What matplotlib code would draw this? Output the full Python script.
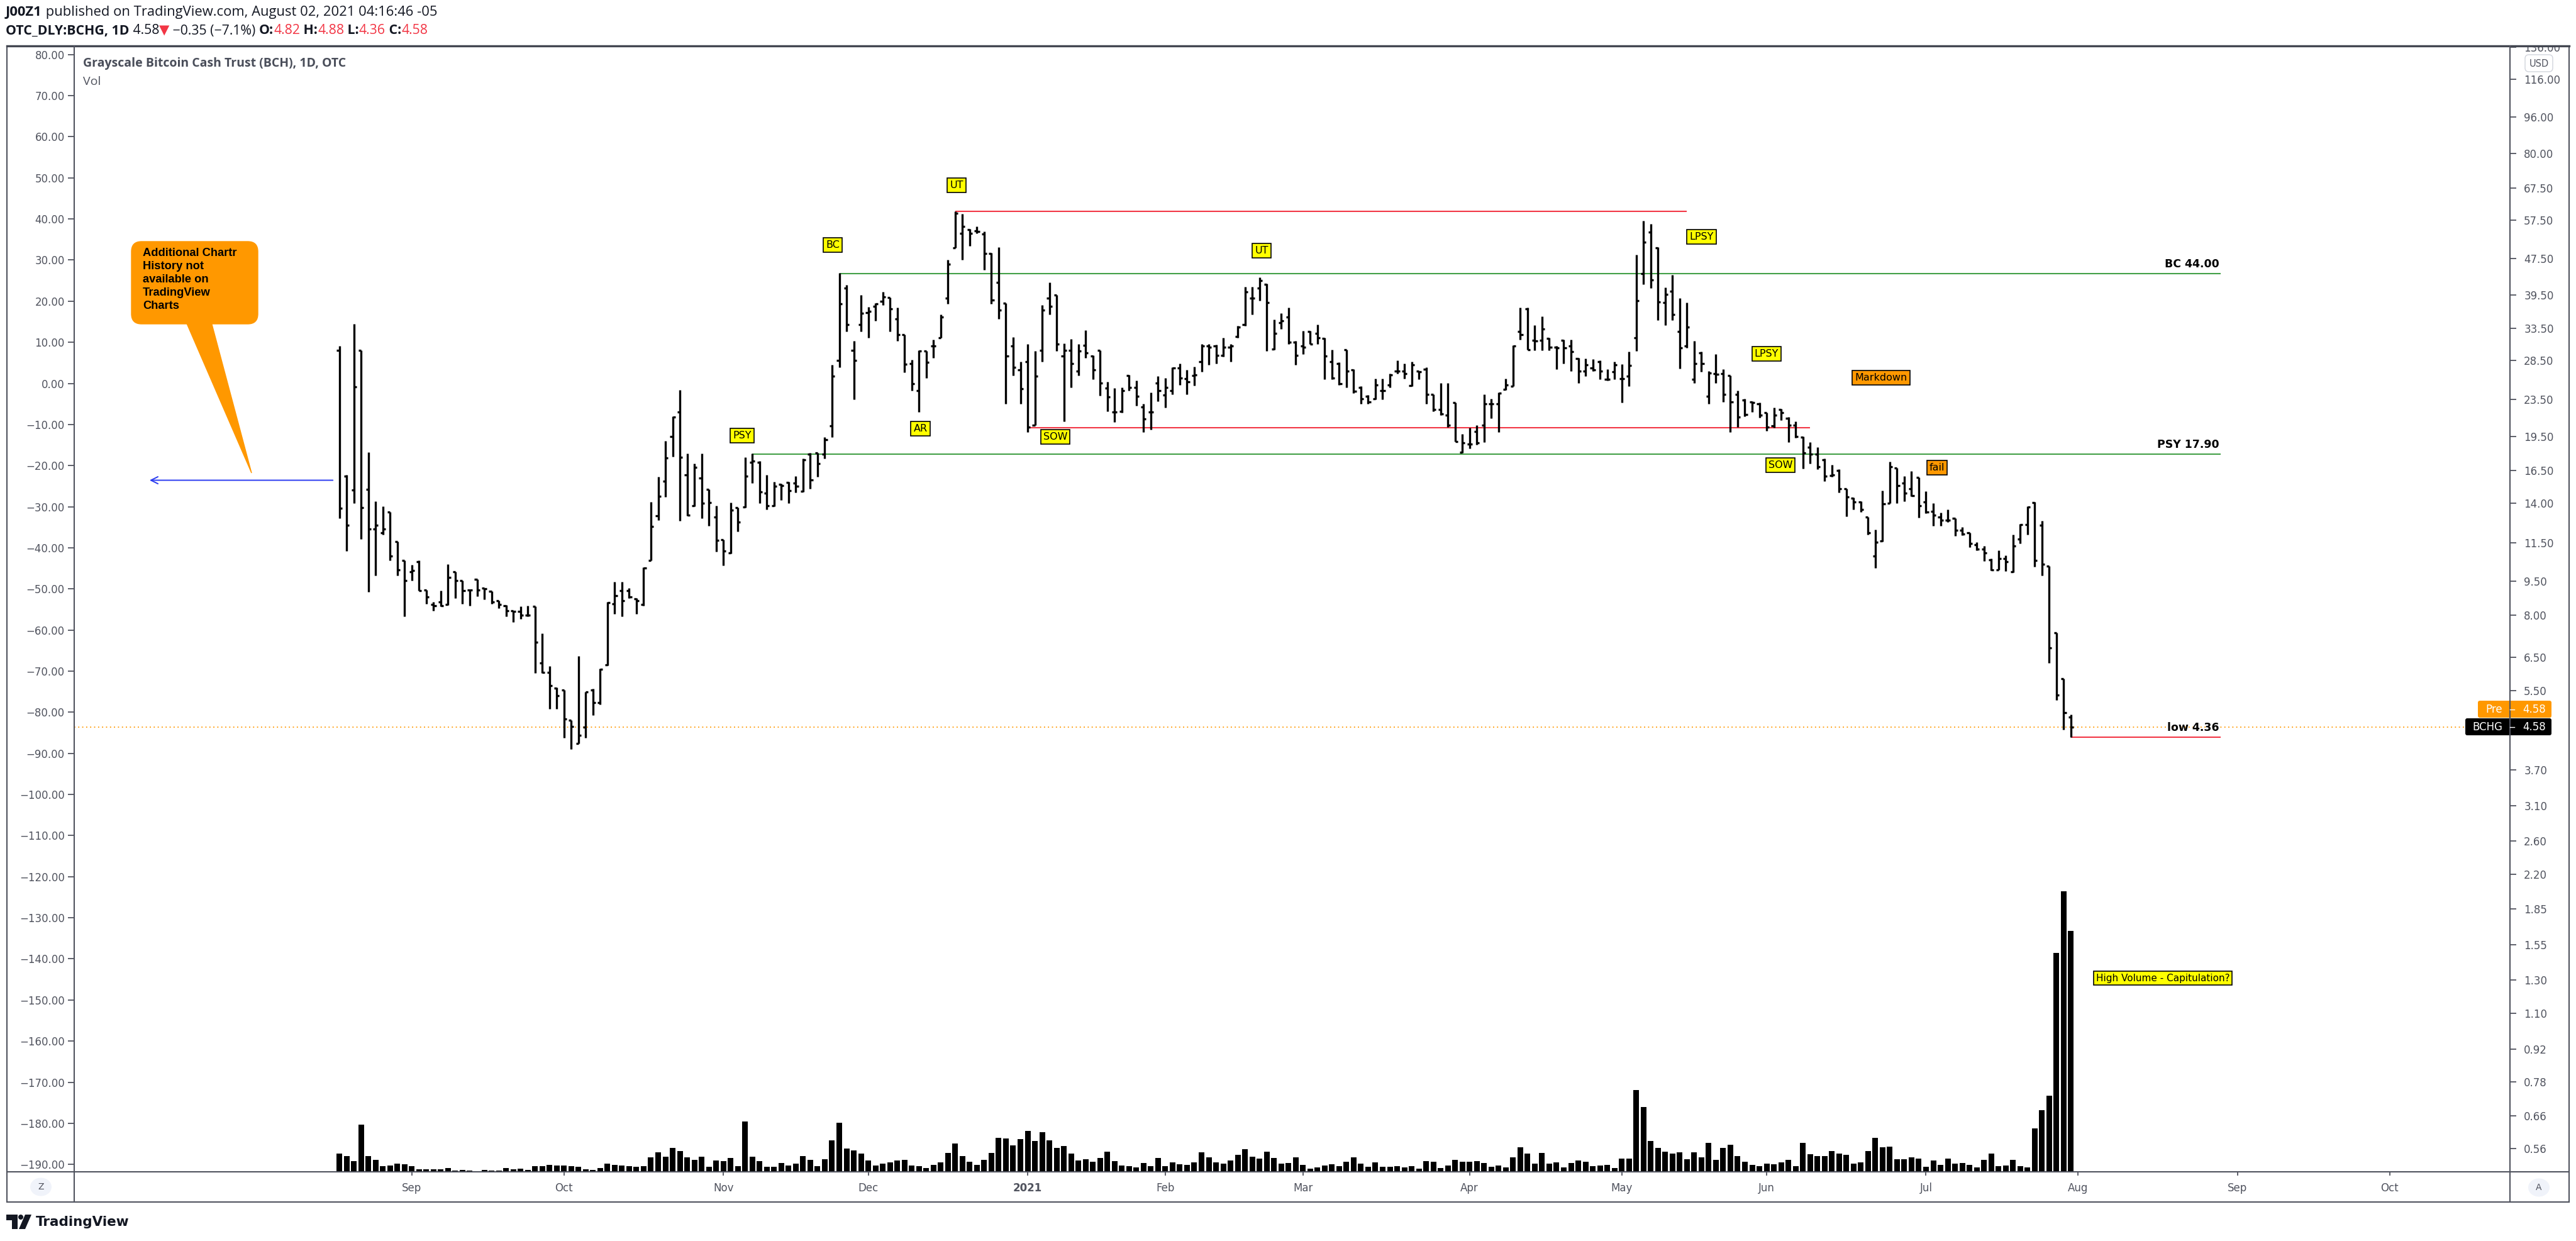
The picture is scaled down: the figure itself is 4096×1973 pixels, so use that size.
import numpy as np
import pandas as pd
import matplotlib
matplotlib.use('Agg')
import matplotlib.pyplot as plt
from matplotlib.collections import LineCollection
from matplotlib.patches import Rectangle, FancyBboxPatch, Polygon, Ellipse, Circle
from matplotlib.offsetbox import TextArea, HPacker, AnnotationBbox
from matplotlib.ticker import NullLocator, NullFormatter

plt.rcParams['font.family'] = ['DejaVu Sans']

# OTC_DLY:BCHG daily bars, 2020-08-18 .. 2021-07-30 (USD)
opens = [30.0, 16.03, 14.94, 30.0, 15.02, 12.3, 12.07, 13.39, 11.56, 10.53,
         9.94, 10.45, 9.08, 8.45, 8.55, 8.45, 9.94, 9.52, 9.08, 9.59,
         9.18, 9.03, 8.61, 8.40, 8.18, 8.15, 8.00, 8.36, 6.31, 6.02,
         5.57, 5.51, 4.74, 4.22, 4.58, 5.52, 5.18, 6.26, 8.48, 9.05,
         9.05, 8.70, 8.45, 10.53, 13.16, 15.64, 19.55, 22.10, 16.10, 13.82,
         15.87, 15.02, 13.07, 11.69, 10.94, 13.68, 13.73, 17.17, 17.15, 14.71,
         13.82, 15.36, 15.51, 15.47, 14.85, 17.86, 17.99, 17.91, 20.57, 28.50,
         40.99, 29.99, 34.15, 36.27, 37.36, 38.30, 39.05, 35.15, 32.48, 28.14,
         24.52, 29.92, 30.65, 32.00, 38.90, 50.00, 53.80, 54.80, 54.50, 53.60,
         48.60, 42.08, 38.00, 30.65, 27.20, 28.32, 20.69, 29.99, 38.99, 39.55,
         29.15, 29.99, 27.10, 30.80, 29.15, 30.05, 24.86, 22.10, 22.17, 26.43,
         24.95, 22.64, 22.10, 25.53, 24.00, 24.52, 27.52, 26.05, 26.43, 28.32,
         30.65, 30.65, 29.23, 30.52, 32.15, 34.15, 38.99, 40.90, 41.77, 30.20,
         34.50, 35.40, 31.23, 30.65, 32.95, 32.71, 31.86, 28.32, 28.12, 30.10,
         27.20, 24.95, 23.90, 23.55, 24.52, 25.24, 27.10, 27.10, 25.17, 27.05,
         27.32, 24.10, 22.33, 21.70, 23.10, 18.06, 18.80, 20.05, 20.63, 22.98,
         22.98, 24.69, 25.06, 32.95, 36.96, 31.55, 31.55, 31.86, 30.52, 31.55,
         30.65, 28.80, 27.05, 27.52, 28.32, 25.97, 26.94, 26.05, 26.35, 32.00,
         43.94, 54.14, 50.00, 38.05, 40.30, 32.95, 30.65, 25.97, 29.65, 23.90,
         26.70, 26.70, 26.43, 24.10, 23.41, 23.20, 22.98, 22.01, 20.57, 22.33,
         21.38, 20.63, 19.48, 18.52, 17.91, 17.41, 16.09, 16.50, 15.03, 14.35,
         14.08, 13.05, 10.76, 11.60, 14.02, 16.67, 15.47, 15.07, 15.92, 14.08,
         13.43, 13.05, 12.87, 12.98, 12.25, 12.07, 11.39, 11.14, 10.56, 10.04,
         10.64, 9.96, 11.72, 12.58, 14.03, 12.54, 10.23, 7.33, 5.83, 4.82]
highs = [30.65, 16.15, 34.2, 30.0, 18.03, 14.15, 13.77, 13.39, 11.56, 10.53,
         10.30, 10.53, 9.08, 8.55, 9.05, 10.33, 9.94, 9.52, 9.11, 9.59,
         9.18, 9.03, 8.61, 8.42, 8.20, 8.36, 8.40, 8.36, 7.31, 6.22,
         5.59, 5.51, 4.74, 6.54, 5.47, 5.55, 6.13, 8.55, 9.45, 9.45,
         9.18, 8.73, 10.18, 14.08, 15.99, 19.13, 21.62, 24.62, 17.93, 17.05,
         17.93, 15.02, 13.84, 11.69, 14.04, 13.68, 17.60, 17.93, 17.30, 16.10,
         15.58, 15.42, 15.58, 16.04, 17.47, 17.99, 17.99, 19.48, 27.92, 44.10,
         41.65, 31.41, 39.55, 37.25, 38.00, 40.13, 39.05, 37.10, 32.48, 28.67,
         29.99, 29.92, 31.67, 35.90, 47.20, 60.10, 59.20, 54.90, 55.60, 54.30,
         48.80, 50.20, 38.00, 32.10, 28.32, 30.99, 29.92, 37.66, 42.08, 39.55,
         31.10, 31.80, 30.99, 33.20, 29.23, 30.05, 25.68, 24.86, 24.95, 26.55,
         25.78, 22.98, 24.35, 26.35, 26.16, 27.60, 28.12, 27.20, 27.70, 30.96,
         30.96, 30.86, 32.00, 30.96, 33.90, 41.18, 41.18, 43.13, 41.90, 35.05,
         36.07, 37.10, 31.41, 33.10, 33.10, 34.15, 32.00, 30.10, 28.23, 30.10,
         27.32, 25.06, 24.00, 26.05, 26.05, 26.70, 28.50, 28.12, 28.40, 27.10,
         27.60, 24.10, 25.53, 25.53, 23.10, 19.76, 20.39, 20.63, 24.10, 23.55,
         24.35, 26.05, 30.80, 37.10, 37.10, 34.00, 35.55, 32.00, 30.65, 31.67,
         31.67, 28.94, 28.80, 28.72, 28.50, 27.32, 28.32, 27.99, 29.79, 48.40,
         57.20, 56.40, 50.20, 41.06, 43.75, 38.99, 38.11, 31.41, 29.79, 27.05,
         29.48, 27.32, 26.43, 24.52, 23.55, 23.31, 23.10, 22.01, 22.55, 22.43,
         21.53, 21.08, 19.53, 18.99, 18.52, 17.47, 16.98, 16.57, 15.03, 14.40,
         14.15, 13.05, 12.28, 14.92, 17.23, 16.67, 16.03, 16.44, 15.92, 14.85,
         14.02, 13.35, 13.55, 12.98, 12.42, 12.07, 11.51, 11.30, 10.61, 11.08,
         10.79, 11.97, 12.63, 13.78, 14.07, 12.81, 10.23, 7.33, 5.83, 4.88]
lows = [13.0, 11.03, 13.98, 11.72, 8.99, 9.76, 11.98, 10.53, 9.76, 7.97,
        9.52, 9.05, 8.48, 8.20, 8.36, 8.42, 8.73, 8.48, 8.40, 8.79,
        8.67, 8.48, 8.30, 7.96, 7.74, 7.86, 7.96, 6.00, 6.00, 5.02,
        5.02, 4.34, 4.11, 4.22, 4.34, 4.86, 5.13, 6.24, 8.06, 7.96,
        8.73, 8.06, 8.40, 10.53, 12.87, 14.45, 17.67, 12.84, 13.16, 13.78,
        13.00, 12.51, 10.99, 10.27, 10.91, 12.16, 13.68, 15.46, 14.02, 13.58,
        13.78, 14.23, 14.02, 14.77, 14.81, 15.03, 15.96, 17.47, 19.48, 27.60,
        32.95, 23.48, 32.95, 32.00, 34.76, 37.66, 32.95, 31.41, 26.93, 24.52,
        22.10, 26.18, 28.94, 32.00, 37.90, 50.00, 47.10, 50.50, 53.80, 44.90,
        37.90, 35.15, 22.98, 26.43, 22.98, 19.98, 20.63, 28.40, 35.90, 29.92,
        21.08, 24.95, 26.43, 28.94, 25.97, 23.98, 22.17, 20.99, 22.01, 24.52,
        22.75, 19.98, 20.20, 23.31, 22.55, 24.10, 25.24, 24.10, 25.17, 26.94,
        27.92, 28.12, 29.06, 28.40, 32.00, 33.90, 35.90, 38.40, 29.92, 30.10,
        33.42, 30.96, 27.92, 29.48, 30.96, 30.96, 25.97, 25.97, 25.24, 24.95,
        24.24, 22.98, 22.98, 23.48, 23.48, 24.95, 26.70, 26.05, 25.06, 25.97,
        22.98, 22.17, 21.70, 20.48, 19.06, 17.99, 18.39, 18.72, 18.99, 21.38,
        19.98, 24.60, 25.06, 31.67, 30.10, 30.00, 30.00, 30.00, 27.32, 28.12,
        27.10, 25.53, 26.35, 27.10, 25.97, 25.78, 25.97, 23.10, 25.06, 29.92,
        41.77, 40.90, 34.90, 34.05, 34.90, 27.44, 30.35, 25.53, 26.94, 22.98,
        25.53, 23.20, 19.98, 20.48, 21.60, 22.10, 21.46, 20.10, 20.39, 21.17,
        18.99, 19.42, 16.63, 17.06, 16.57, 15.62, 15.96, 14.77, 13.11, 13.55,
        13.40, 11.97, 10.12, 11.56, 14.02, 14.02, 14.15, 14.50, 13.01, 13.30,
        12.50, 12.50, 12.74, 11.89, 11.93, 11.24, 11.08, 10.49, 10.01, 10.04,
        9.97, 9.93, 11.47, 11.97, 10.21, 9.76, 6.31, 5.24, 4.53, 4.36]
closes = [13.67, 12.55, 25.05, 13.7, 12.3, 12.55, 12.3, 10.76, 10.04, 9.52,
          10.01, 9.05, 8.77, 8.40, 8.40, 9.66, 9.52, 9.05, 9.08, 9.08,
          9.14, 8.55, 8.45, 8.18, 8.15, 8.00, 8.00, 7.00, 6.02, 5.63,
          5.36, 4.77, 4.60, 4.40, 5.46, 5.18, 6.11, 8.52, 8.82, 8.61,
          8.77, 8.61, 10.15, 12.46, 14.51, 17.55, 21.52, 17.60, 13.20, 16.74,
          14.02, 14.04, 11.64, 11.03, 13.54, 12.74, 16.03, 17.25, 14.81, 13.82,
          15.25, 15.29, 14.92, 15.25, 17.36, 15.74, 17.06, 19.20, 26.35, 37.90,
          34.15, 28.50, 36.07, 36.44, 37.90, 39.16, 36.96, 32.48, 27.99, 25.42,
          29.92, 28.26, 30.65, 35.40, 46.10, 59.50, 55.70, 53.80, 54.30, 48.60,
          38.60, 36.70, 29.15, 27.60, 24.77, 20.48, 26.35, 36.70, 37.36, 31.00,
          29.99, 28.14, 29.92, 29.65, 27.20, 25.53, 23.83, 22.10, 24.52, 24.95,
          23.90, 21.30, 22.10, 24.52, 24.95, 27.52, 26.16, 25.68, 26.55, 30.65,
          30.52, 29.23, 30.52, 30.65, 33.75, 40.13, 38.99, 42.50, 38.05, 32.71,
          34.76, 31.23, 29.23, 30.52, 30.96, 32.00, 29.15, 26.16, 25.42, 27.05,
          24.45, 23.55, 23.20, 25.24, 24.52, 26.55, 27.10, 26.70, 27.92, 26.94,
          24.10, 22.33, 21.86, 20.69, 19.06, 18.93, 18.80, 18.93, 22.98, 22.98,
          24.24, 25.24, 30.65, 32.48, 30.10, 31.41, 33.42, 30.52, 30.43, 30.43,
          29.79, 27.05, 27.92, 27.20, 27.05, 25.97, 27.92, 26.05, 27.84, 38.40,
          51.50, 42.70, 38.20, 39.73, 35.90, 30.43, 33.75, 28.12, 28.12, 26.82,
          26.66, 24.10, 23.20, 21.53, 21.78, 23.10, 21.70, 20.48, 21.70, 22.01,
          20.63, 19.53, 17.99, 17.91, 16.82, 16.03, 16.14, 15.03, 14.44, 14.08,
          13.55, 12.07, 11.51, 13.94, 16.82, 15.29, 14.71, 14.56, 13.82, 13.40,
          13.20, 12.87, 12.87, 12.25, 12.02, 11.46, 11.14, 10.92, 10.04, 10.61,
          10.46, 11.30, 12.58, 13.74, 10.53, 10.34, 6.80, 5.38, 4.93, 4.58]
# volume, thousand shares
volumes = [287, 253, 167, 750, 253, 193, 93, 103, 133, 120,
           87, 43, 43, 43, 43, 60, 20, 27, 20, 13,
           27, 20, 20, 60, 43, 53, 27, 87, 93, 110,
           103, 103, 93, 77, 43, 27, 60, 133, 110, 100,
           93, 77, 87, 233, 310, 243, 377, 333, 227, 193,
           243, 77, 177, 170, 217, 93, 800, 243, 170, 77,
           77, 143, 100, 127, 253, 187, 87, 203, 503, 783,
           370, 337, 293, 180, 100, 127, 153, 177, 193, 100,
           93, 60, 110, 153, 303, 453, 253, 160, 110, 187,
           303, 540, 527, 420, 520, 653, 493, 633, 503, 377,
           410, 287, 180, 203, 160, 220, 320, 170, 103, 93,
           70, 143, 87, 220, 87, 153, 120, 110, 153, 310,
           227, 150, 127, 183, 270, 360, 243, 210, 320, 217,
           127, 143, 233, 110, 53, 70, 100, 120, 93, 160,
           233, 133, 77, 153, 77, 77, 93, 67, 87, 50,
           173, 160, 60, 100, 193, 160, 160, 167, 143, 83,
           100, 67, 233, 387, 287, 127, 303, 127, 150, 67,
           143, 177, 160, 93, 100, 110, 60, 210, 210, 1303,
           1033, 487, 377, 320, 293, 310, 200, 310, 233, 460,
           193, 383, 427, 253, 160, 110, 87, 127, 120, 153,
           193, 87, 460, 277, 253, 253, 327, 293, 270, 127,
           153, 333, 543, 393, 400, 200, 200, 233, 210, 77,
           177, 110, 210, 133, 143, 110, 67, 193, 293, 93,
           100, 193, 93, 67, 693, 977, 1210, 3477, 4460, 3827]

holidays = ['2020-09-07', '2020-11-26', '2020-12-25', '2021-01-01', '2021-01-18',
            '2021-02-15', '2021-04-02', '2021-05-31', '2021-07-05', '2021-09-06']
days = pd.bdate_range('2020-08-18', periods=300, freq='C', holidays=holidays)
x = np.arange(len(closes))

# wyckoff levels drawn on the chart
UT_LEVEL = 60.10
BC_LEVEL = 44.00
SOW_LEVEL = 20.40
PSY_LEVEL = 17.90
LOW_LEVEL = 4.36

price_ticks = [136, 116, 96, 80, 67.5, 57.5, 47.5, 39.5, 33.5, 28.5, 23.5, 19.5, 16.5,
               14, 11.5, 9.5, 8, 6.5, 5.5, 3.7, 3.1, 2.6, 2.2, 1.85, 1.55, 1.3, 1.1,
               0.92, 0.78, 0.66, 0.56]
pct_ticks = list(range(-190, 81, 10))

AXC = '#50535e'
TXT = '#131722'
RED = '#f23645'
GREEN = '#43a047'
ORANGE = '#ff9800'

W, H = 4096, 1973
fig = plt.figure(figsize=(W / 100, H / 100), dpi=100)
fig.patch.set_facecolor('white')

PL, PR, PT, PB = 118, 3991, 73, 1863
axL = fig.add_axes([PL / W, 1 - PB / H, (PR - PL) / W, (PB - PT) / H])
axV = axL.twinx()
axP = axL.twinx()
for ax in (axL, axV, axP):
    for s in ax.spines.values():
        s.set_visible(False)

# left (percent) scale
axL.set_xlim(-36.6, 299.6)
axL.set_ylim(-191.8, 82.1)
axL.set_yticks(pct_ticks, [f'{v:.2f}'.replace('-', '\u2212') for v in pct_ticks])
axL.tick_params(axis='y', left=True, length=7, width=1.3, color=AXC,
                labelcolor=AXC, labelsize=12, pad=4)

# time scale
ms = [i for i in range(1, 299) if days[i].month != days[i - 1].month]
axL.set_xticks(ms, ['2021' if days[i].month == 1 else days[i].strftime('%b') for i in ms])
axL.tick_params(axis='x', length=4, width=1.3, color=AXC, labelcolor=AXC,
                labelsize=12, pad=8)
for t in axL.get_xticklabels():
    if t.get_text() == '2021':
        t.set_fontweight('bold')

# volume
axV.bar(x, volumes, width=0.78, color='black')
axV.set_ylim(0, max(volumes) * 4.01)
axV.yaxis.set_visible(False)

# price (log)
axP.set_yscale('log')
axP.set_ylim(0.4987, 137.0)
axP.set_yticks(price_ticks, [f'{v:.2f}' for v in price_ticks])
axP.yaxis.set_minor_locator(NullLocator())
axP.yaxis.set_minor_formatter(NullFormatter())
axP.tick_params(axis='y', right=True, length=7, width=1.3, color=AXC,
                labelcolor=AXC, labelsize=12, pad=9)

tw = 0.36
segs = []
for i in x:
    segs.append([(i, lows[i]), (i, highs[i])])
    segs.append([(i - tw, opens[i]), (i, opens[i])])
    segs.append([(i, closes[i]), (i + tw, closes[i])])
axP.add_collection(LineCollection(segs, colors='black', linewidths=2.4, capstyle='butt', zorder=3))

axP.axhline(closes[-1], color=ORANGE, ls=(0, (1, 2.5)), lw=1.3, zorder=2)
axP.hlines(UT_LEVEL, 85, 186, color=RED, lw=1.5)
axP.hlines(BC_LEVEL, 69, 259.7, color=GREEN, lw=1.5)
axP.hlines(SOW_LEVEL, 95, 203, color=RED, lw=1.5)
axP.hlines(PSY_LEVEL, 57, 259.7, color=GREEN, lw=1.5)
axP.hlines(LOW_LEVEL, 239, 259.7, color=RED, lw=1.5)
for lvl, s in ((BC_LEVEL, 'BC 44.00'), (PSY_LEVEL, 'PSY 17.90'), (LOW_LEVEL, 'low 4.36')):
    axP.annotate(s, (259.7, lvl), xytext=(-2, 4), textcoords='offset points',
                 ha='right', va='bottom', fontsize=12.5, fontweight='bold', color='black')


def tag(xp, yp, s, fc='#ffff00', fs=11.5):
    axP.text(xp, yp, s, ha='center', va='center', fontsize=fs, color='black', zorder=6,
             bbox=dict(boxstyle='square,pad=0.25', fc=fc, ec='black', lw=1.2))


tag(55.6, 19.6, 'PSY')
tag(68.1, 50.8, 'BC')
tag(80.2, 20.3, 'AR')
tag(85.2, 68.3, 'UT')
tag(98.8, 19.5, 'SOW')
tag(127.3, 49.4, 'UT')
tag(188.0, 52.8, 'LPSY')
tag(197.0, 29.5, 'LPSY')
tag(198.9, 16.95, 'SOW')
tag(212.8, 26.2, 'Markdown', fc=ORANGE)
tag(220.5, 16.7, 'fail', fc=ORANGE)
tag(251.7, 1.31, 'High Volume - Capitulation?', fs=11)

axP.annotate('', xy=(-26.2, 15.7), xytext=(-0.9, 15.7),
             arrowprops=dict(arrowstyle='->,head_length=0.8,head_width=0.4',
                             color='#2a3bf0', lw=1.4, shrinkA=0, shrinkB=0))

# overlay in pixel units for frame, header and badges
bg = fig.add_axes([0, 0, 1, 1], zorder=5)
bg.set_xlim(0, W)
bg.set_ylim(H, 0)
bg.axis('off')

bg.add_patch(Rectangle((3993, 50), 90, 22, fc='white', ec='none'))
bg.add_patch(Rectangle((11, 73), 4074, 1838, fill=False, ec=AXC, lw=1.5))
bg.plot([11, 4085], [73, 73], color='#434651', lw=2.4)
bg.plot([118, 118], [73, 1911], color=AXC, lw=1.5)
bg.plot([3991, 3991], [73, 1911], color=AXC, lw=1.5)
bg.plot([11, 4085], [1863, 1863], color=AXC, lw=1.5)

FAM = ['Open Sans', 'DejaVu Sans']


def header(parts, y, fs):
    boxes = [TextArea(s, textprops=dict(fontsize=fs, color=c, fontweight=w, family=FAM))
             for s, c, w in parts]
    pack = HPacker(children=boxes, pad=0, sep=0, align='baseline')
    bg.add_artist(AnnotationBbox(pack, (9, y), xycoords='data', box_alignment=(0, 0.5),
                                 frameon=False, pad=0))


chg = closes[-1] - closes[-2]
header([('J00Z1', TXT, 'bold'),
        (' published on TradingView.com, August 02, 2021 04:16:46 -05', TXT, 'normal')], 20, 15.8)
header([('OTC_DLY:BCHG, 1D', TXT, 'bold'),
        (f' {closes[-1]:.2f}', TXT, 'normal'),
        ('\u25bc', RED, 'normal'),
        (f' \u2212{abs(chg):.2f} (\u2212{abs(chg) / closes[-2] * 100:.1f}%) ', TXT, 'normal'),
        ('O:', TXT, 'bold'), (f'{opens[-1]:.2f}', RED, 'normal'),
        (' H:', TXT, 'bold'), (f'{highs[-1]:.2f}', RED, 'normal'),
        (' L:', TXT, 'bold'), (f'{lows[-1]:.2f}', RED, 'normal'),
        (' C:', TXT, 'bold'), (f'{closes[-1]:.2f}', RED, 'normal')], 49, 15.3)

bg.text(132, 101, 'Grayscale Bitcoin Cash Trust (BCH), 1D, OTC', fontsize=14,
        fontweight='bold', color='#4a4e5a', va='center', family=FAM)
bg.text(132, 130, 'Vol', fontsize=14, color=AXC, va='center', family=FAM)

# callout
bg.add_patch(FancyBboxPatch((209, 384), 201, 131, boxstyle='round,pad=0,rounding_size=16',
                            fc=ORANGE, ec=ORANGE, lw=1))
bg.add_patch(Polygon([(296, 512), (336, 512), (400, 752)], closed=True, fc=ORANGE, ec=ORANGE))
bg.text(227, 394, 'Additional Chartr\nHistory not\navailable on\nTradingView\nCharts',
        ha='left', va='top', fontsize=13.2, fontweight='bold', color='black',
        family=['Liberation Sans', 'DejaVu Sans'], linespacing=1.3)

# price badges
last = f'{closes[-1]:.2f}'
bg.add_patch(FancyBboxPatch((3940, 1114), 117, 27, boxstyle='round,pad=0,rounding_size=3',
                            fc=ORANGE, ec='none'))
bg.add_patch(FancyBboxPatch((3920, 1142), 137, 27, boxstyle='round,pad=0,rounding_size=3',
                            fc='black', ec='none'))
bg.text(3966, 1128, 'Pre', color='white', ha='center', va='center', fontsize=12)
bg.text(4030, 1128, last, color='white', ha='center', va='center', fontsize=12)
bg.text(3955, 1156, 'BCHG', color='white', ha='center', va='center', fontsize=12)
bg.text(4030, 1156, last, color='white', ha='center', va='center', fontsize=12)
bg.plot([3991, 3998], [1128, 1128], color='white', lw=1)
bg.plot([3991, 3998], [1156, 1156], color='white', lw=1)

bg.add_patch(FancyBboxPatch((4015, 87), 44, 27, boxstyle='round,pad=0,rounding_size=6',
                            fc='white', ec='#d1d4dc', lw=1))
bg.text(4037, 101, 'USD', color=AXC, ha='center', va='center', fontsize=10.5)

bg.add_patch(Ellipse((65, 1887), 34, 29, fc='#f0f3fa', ec='none'))
bg.text(65, 1887, 'Z', ha='center', va='center', fontsize=10, color=AXC)
bg.add_patch(Ellipse((4037, 1888), 34, 29, fc='#f0f3fa', ec='none'))
bg.text(4037, 1888, 'A', ha='center', va='center', fontsize=10, color=AXC)

# TradingView logo
bg.add_patch(Polygon([(10, 1931), (28, 1931), (28, 1954), (19, 1954), (19, 1940), (10, 1940)],
                     closed=True, fc=TXT, ec='none'))
bg.add_patch(Circle((33, 1935), 4, fc=TXT, ec='none'))
bg.add_patch(Polygon([(40, 1931), (50, 1931), (40, 1954), (30, 1954)], closed=True, fc=TXT, ec='none'))
bg.text(57, 1943, 'TradingView', fontsize=15.5, fontweight='bold', va='center', color=TXT)

fig.savefig('out.png', dpi=100, facecolor='white')
